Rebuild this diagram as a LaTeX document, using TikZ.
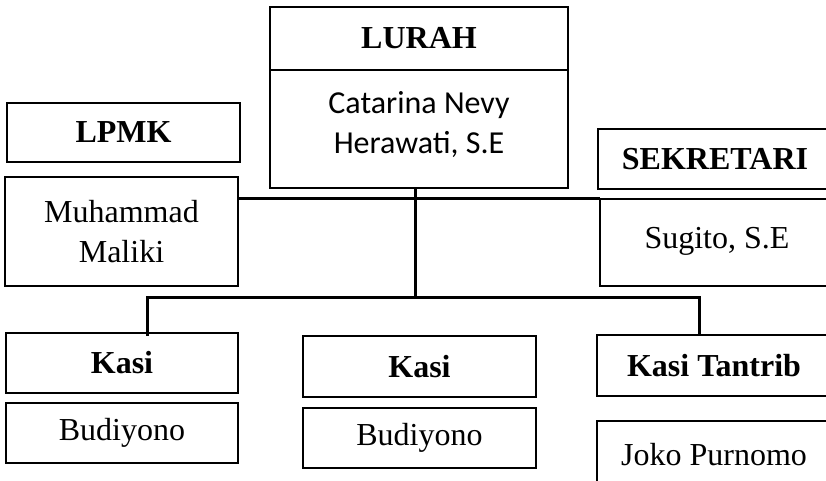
\documentclass[tikz,border=0pt]{standalone}
\usepackage{fontspec}
\setmainfont{Liberation Serif}
\newfontfamily\calib{Carlito}
\begin{document}
\begin{tikzpicture}[x=1pt,y=-1pt,
  box/.style={draw=black,line width=1.8pt,inner sep=0pt,outer sep=0pt,align=center,
    font=\fontsize{32}{40}\selectfont},
  title/.style={box,font=\fontsize{32}{40}\selectfont\bfseries},
  conn/.style={line width=3pt}]
\useasboundingbox (0,0) rectangle (826,480);
\clip (0,0) rectangle (826,480);
\fill[white] (0,0) rectangle (826,480);
% LURAH
\node[title,minimum width=298pt,minimum height=63pt] (lurahT) at (419,38.5) {LURAH};
\node[box,minimum width=298pt,minimum height=118pt,text depth=14pt,font=\fontsize{32}{40}\selectfont\calib] (lurahN) at (419,129) {Catarina Nevy\\Herawati, S.E};
% LPMK
\node[title,minimum width=233pt,minimum height=59pt] (lpmkT) at (123.5,132.5) {LPMK};
\node[box,minimum width=233pt,minimum height=109pt] (lpmkN) at (121.5,231.5) {Muhammad\\Maliki};
% SEKRETARI
\node[title,minimum width=234pt,minimum height=60pt] (sekT) at (715,159) {SEKRETARI};
\node[box,minimum width=234pt,minimum height=87pt,text depth=10pt] (sekN) at (717,242.5) {Sugito, S.E};
% Kasi 1
\node[title,minimum width=232pt,minimum height=60pt] (k1T) at (122,363) {Kasi};
\node[box,minimum width=232pt,minimum height=60pt] (k1N) at (122,433) {Budiyono};
% Kasi 2
\node[title,minimum width=233pt,minimum height=61pt] (k2T) at (419.5,366.5) {Kasi};
\node[box,minimum width=233pt,minimum height=60pt] (k2N) at (419.5,438) {Budiyono};
% Kasi Tantrib
\node[title,minimum width=234pt,minimum height=61pt] (k3T) at (714,365.5) {Kasi Tantrib};
\node[box,minimum width=234pt,minimum height=68pt] (k3N) at (714,455) {Joko Purnomo};
% connectors
\coordinate (mid) at (415,198);
\coordinate (jn) at (415,297);
\coordinate (bl) at (147,297);
\coordinate (br) at (699,297);
\draw[conn] (lpmkN.east |- mid) -- (sekN.west |- mid);
\draw[conn] (lurahN.south -| mid) -- (jn);
\draw[conn] ([yshift=-3pt]k1T.north -| bl) -- (bl) -- (br) -- (k3T.north -| br);
\end{tikzpicture}
\end{document}
